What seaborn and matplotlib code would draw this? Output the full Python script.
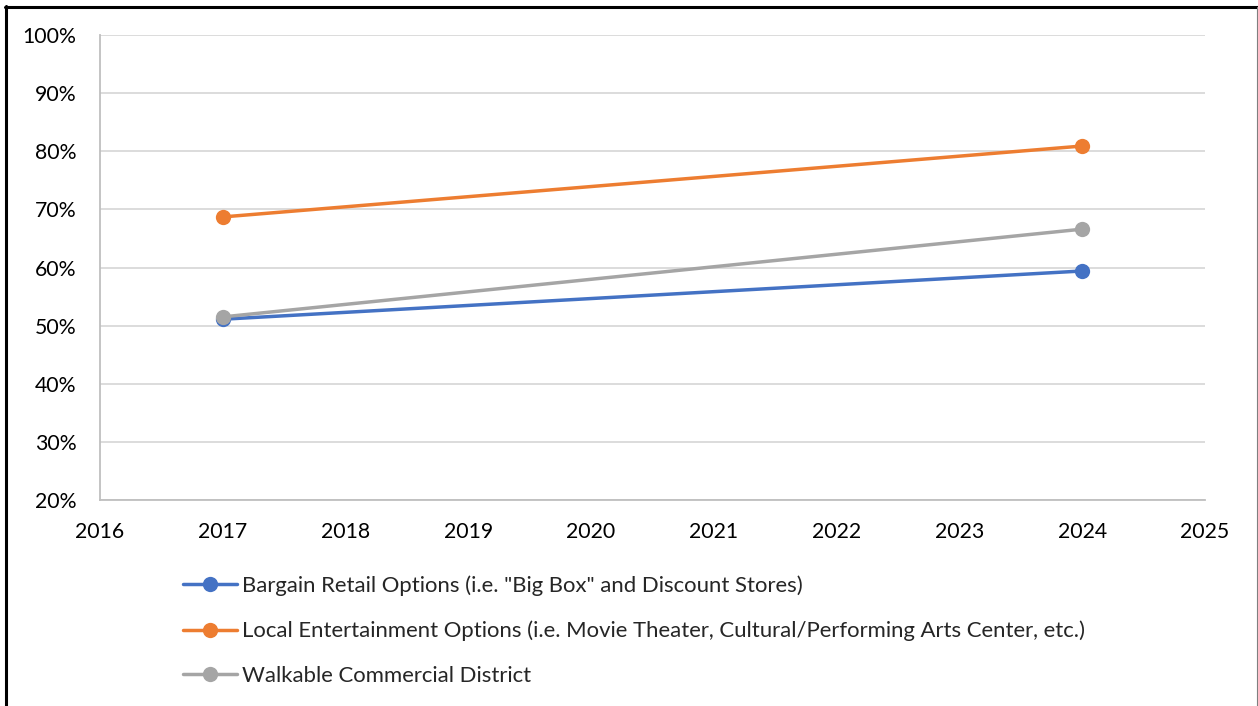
import matplotlib
matplotlib.use("Agg")
import matplotlib.pyplot as plt
from matplotlib.lines import Line2D
from matplotlib.ticker import FuncFormatter
import pandas as pd
import seaborn as sns

# Survey years and share of respondents rating each amenity
years = [2017, 2024]
bargain_retail = [51.1, 59.4]
local_entertainment = [68.7, 80.9]
walkable_district = [51.5, 66.6]

series_names = [
    'Bargain Retail Options (i.e. "Big Box" and Discount Stores)',
    "Local Entertainment Options (i.e. Movie Theater, Cultural/Performing Arts Center, etc.)",
    "Walkable Commercial District",
]
series_values = [bargain_retail, local_entertainment, walkable_district]
colors = ["#4472C4", "#ED7D31", "#A5A5A5"]

x_ticks = list(range(2016, 2026))
y_ticks = list(range(20, 101, 10))

rows = []
for name, vals in zip(series_names, series_values):
    for yr, v in zip(years, vals):
        rows.append({"Year": yr, "Share": v, "Series": name})
df = pd.DataFrame(rows)

sns.set_theme(style="white")
plt.rcParams["font.family"] = ["Lato", "DejaVu Sans"]

W, H = 1258, 706
fig = plt.figure(figsize=(W / 100, H / 100), dpi=100)
ax = fig.add_axes([100 / W, 1 - 500 / H, 1105 / W, 465 / H])

sns.lineplot(
    data=df, x="Year", y="Share", hue="Series", hue_order=series_names,
    palette=colors, marker="o", markersize=11, markeredgewidth=0,
    linewidth=2.5, ax=ax, legend=False,
)

ax.set_xlim(2016, 2025)
ax.set_ylim(20, 100)
ax.set_xticks(x_ticks)
ax.set_yticks(y_ticks)
ax.yaxis.set_major_formatter(FuncFormatter(lambda v, p: f"{v:.0f}%"))
ax.set_xlabel("")
ax.set_ylabel("")
ax.grid(axis="y", color="#D9D9D9", linewidth=1.3)
ax.set_axisbelow(True)
for side in ["top", "right"]:
    ax.spines[side].set_visible(False)
for side in ["left", "bottom"]:
    ax.spines[side].set_color("#BFBFBF")
    ax.spines[side].set_linewidth(1.3)
ax.tick_params(axis="both", length=0, labelsize=15.3, colors="#000000")
ax.tick_params(axis="y", pad=17)
ax.tick_params(axis="x", pad=16)

handles = [
    Line2D([0], [0], color=c, linewidth=2.5, marker="o", markersize=11,
           markeredgewidth=0)
    for c in colors
]
fig.legend(
    handles, series_names, loc="upper left",
    bbox_to_anchor=(183 / W, 1 - 575.5 / H), frameon=False,
    fontsize=15.9, handlelength=2.45, handletextpad=0.22,
    labelspacing=1.12, borderaxespad=0, borderpad=0,
)

# Frame around the chart
fig.add_artist(Line2D([6 / W, 6 / W], [0, 1 - 6 / H], color="black",
                      linewidth=2.2, transform=fig.transFigure))
fig.add_artist(Line2D([5 / W, 1], [1 - 7 / H, 1 - 7 / H], color="black",
                      linewidth=2.2, transform=fig.transFigure))
fig.add_artist(Line2D([1256.5 / W, 1256.5 / W], [0, 1 - 7 / H], color="#7F7F7F",
                      linewidth=0.8, transform=fig.transFigure))

fig.savefig("out.png", dpi=100, facecolor="white")
